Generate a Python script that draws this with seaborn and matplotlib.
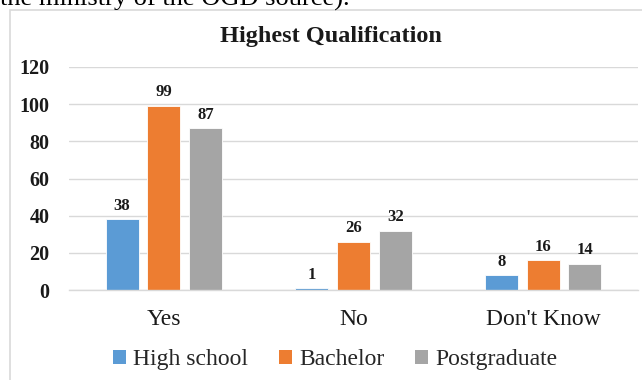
"""Highest Qualification grouped bar chart (Excel-style) recreated with seaborn."""

import matplotlib

matplotlib.use("Agg")
import matplotlib.pyplot as plt
import pandas as pd
import seaborn as sns
from matplotlib.patches import Patch, Rectangle

ANSWERS = ["Yes", "No", "Don't Know"]
QUALIFICATIONS = ["High school", "Bachelor", "Postgraduate"]
HIGH_SCHOOL = [38, 1, 8]
BACHELOR = [99, 26, 16]
POSTGRADUATE = [87, 32, 14]
Y_TICKS = [0, 20, 40, 60, 80, 100, 120]

COLORS = ["#5B9BD5", "#ED7D31", "#A5A5A5"]
GRID = "#D9D9D9"
SERIF = "Liberation Serif"


def main() -> None:
    df = pd.DataFrame(
        {
            "answer": ANSWERS * 3,
            "qualification": [q for q in QUALIFICATIONS for _ in ANSWERS],
            "count": HIGH_SCHOOL + BACHELOR + POSTGRADUATE,
        }
    )

    sns.set_theme(style="white")
    plt.rcParams["font.family"] = [SERIF, "DejaVu Serif"]

    fig = plt.figure(figsize=(6.42, 3.80), dpi=100)
    ax = fig.add_axes([0.1075, 0.2368, 0.8863, 0.5869])

    sns.barplot(
        data=df,
        x="answer",
        y="count",
        hue="qualification",
        order=ANSWERS,
        hue_order=QUALIFICATIONS,
        palette=COLORS,
        saturation=1,
        width=0.66,
        gap=0.21,
        edgecolor="white",
        linewidth=0.6,
        legend=False,
        ax=ax,
    )

    for container in ax.containers:
        ax.bar_label(
            container,
            padding=4,
            fontsize=12,
            fontweight="bold",
            family=SERIF,
            color="#1a1a1a",
        )

    ax.set_xlim(-0.5, 2.5)
    ax.set_ylim(0, 120)
    ax.set_yticks(Y_TICKS)
    ax.set_yticklabels([str(t) for t in Y_TICKS], fontsize=14.5, fontweight="bold", family=SERIF)
    ax.set_xticks(range(len(ANSWERS)))
    ax.set_xticklabels(ANSWERS, fontsize=17, family=SERIF)
    ax.tick_params(axis="x", length=0, pad=14, colors="#1a1a1a")
    ax.tick_params(axis="y", length=0, pad=14, colors="#1a1a1a")
    ax.set_xlabel("")
    ax.set_ylabel("")
    ax.yaxis.grid(True, color=GRID, linewidth=1)
    ax.set_axisbelow(True)
    for side in ("top", "right", "left"):
        ax.spines[side].set_visible(False)
    ax.spines["bottom"].set_color(GRID)
    ax.spines["bottom"].set_linewidth(1)

    handles = [Patch(facecolor=c, edgecolor="none") for c in COLORS]
    fig.legend(
        handles,
        QUALIFICATIONS,
        loc="center",
        bbox_to_anchor=(0.522, 0.054),
        ncol=3,
        frameon=False,
        prop={"family": SERIF, "size": 17},
        handlelength=0.55,
        handleheight=0.55,
        handletextpad=0.3,
        columnspacing=1.3,
    )

    fig.text(
        0.5155,
        0.905,
        "Highest Qualification",
        ha="center",
        va="center",
        fontsize=17.5,
        fontweight="bold",
        family=SERIF,
        color="#1a1a1a",
    )

    # Cut-off line of body text above the chart in the source document
    fig.text(0.0, 0.985, "the ministry of the OGD source).", ha="left", va="baseline",
             fontsize=19, family=SERIF, color="black")

    # Chart area border
    fig.add_artist(
        Rectangle(
            (10 / 642, -0.1),
            1.0,
            1 - 10 / 380 + 0.1,
            transform=fig.transFigure,
            fill=False,
            edgecolor=GRID,
            linewidth=1.2,
        )
    )

    fig.savefig("out.png", dpi=100)
    plt.close(fig)


if __name__ == "__main__":
    main()
